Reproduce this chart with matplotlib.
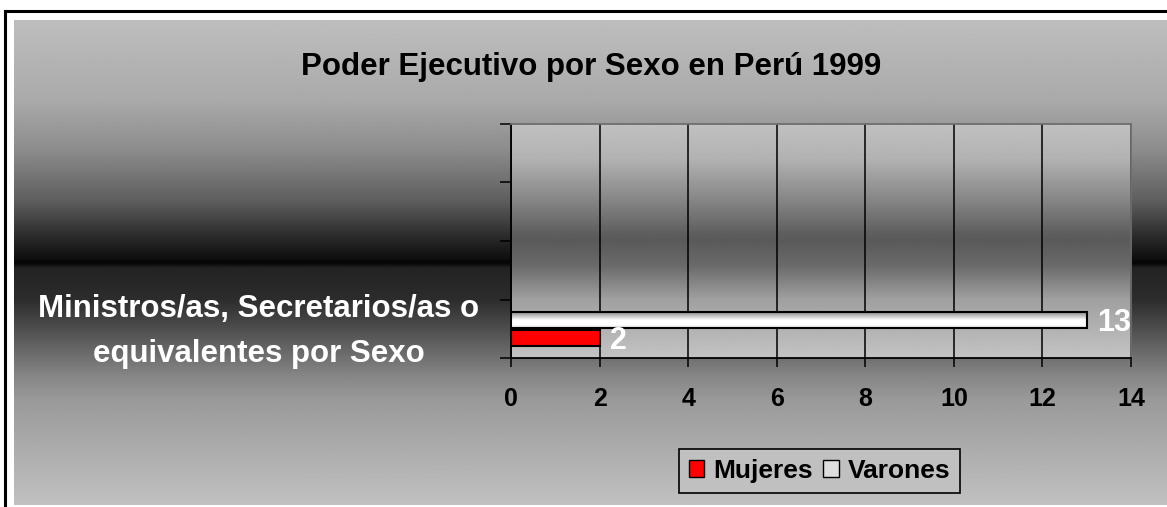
import numpy as np
import matplotlib
matplotlib.use("Agg")
import matplotlib.pyplot as plt
from matplotlib.patches import Patch
from matplotlib.lines import Line2D

plt.rcParams['font.family'] = ['Liberation Sans', 'DejaVu Sans']
plt.rcParams['font.weight'] = 'bold'

# ---------------- data ----------------
title = "Poder Ejecutivo por Sexo en Perú 1999"
categories = ["Ministros/as, Secretarios/as o\nequivalentes por Sexo"]
series_names = ["Mujeres", "Varones"]
mujeres = [2]
varones = [13]
x_ticks = [0, 2, 4, 6, 8, 10, 12, 14]
n_slots = 4

W, H = 1167, 507
fig = plt.figure(figsize=(W / 100, H / 100), dpi=100)
fig.patch.set_facecolor('white')

def fx(px):
    return px / W

def fy(py):
    return 1 - py / H

# ---------------- figure background gradient ----------------
bg = fig.add_axes([fx(14), fy(505), fx(W - 14), (505 - 20) / H], zorder=-10)
rows = np.arange(20, 506)
stops_y = [20, 100, 150, 200, 233, 258, 263, 268, 300, 330, 375, 400, 505]
stops_g = [190, 170, 140, 95, 48, 15, 6, 35, 45, 80, 133, 154, 193]
g = np.interp(rows, stops_y, stops_g) / 255.0
bg.imshow(np.repeat(g[:, None], 2, axis=1), cmap='gray', vmin=0, vmax=1,
          aspect='auto', extent=[0, 1, 0, 1], interpolation='bilinear')
bg.set_axis_off()

# outer black border (left and top visible)
fig.add_artist(Line2D([fx(5), fx(5)], [fy(11), fy(H + 5)], color='black', lw=2.2,
                      transform=fig.transFigure))
fig.add_artist(Line2D([fx(5), fx(W + 5)], [fy(11), fy(11)], color='black', lw=2.2,
                      transform=fig.transFigure))

# ---------------- main axes ----------------
ax = fig.add_axes([fx(511), fy(358), fx(1131 - 511), (358 - 124) / H])
prow = np.arange(124, 359)
p_stops_y = [124, 160, 200, 235, 242, 266, 300, 358]
p_stops_g = [193, 178, 135, 94, 90, 106, 160, 195]
pg = np.interp(prow, p_stops_y, p_stops_g) / 255.0
ax.imshow(np.repeat(pg[:, None], 2, axis=1), cmap='gray', vmin=0, vmax=1,
          aspect='auto', extent=[0, x_ticks[-1], 0, n_slots], zorder=0,
          interpolation='bilinear')
ax.set_facecolor('none')

ypos = np.arange(len(categories)) + 0.5
bh = 0.273
bars_m = ax.barh(ypos - 0.158, mujeres, height=bh, color='#ff0000',
                 edgecolor='black', linewidth=1.5, zorder=2)
bars_v = ax.barh(ypos + 0.15, varones, height=bh, color='white',
                 edgecolor='black', linewidth=1.5, zorder=2)

# gradient fill for Varones bar
vgrad = np.interp(np.linspace(0, 1, 50), [0, 0.5, 0.8, 1.0], [0.55, 1.0, 1.0, 0.86])
for p in bars_v.patches:
    x0, y0 = p.get_x(), p.get_y()
    im = ax.imshow(np.repeat(vgrad[:, None], 2, axis=1), cmap='gray', vmin=0, vmax=1,
                   aspect='auto', extent=[x0, x0 + p.get_width(), y0, y0 + p.get_height()],
                   zorder=2.1, interpolation='bilinear')
    im.set_clip_path(p)
    p.set_facecolor('none')
    p.set_zorder(2.2)

ax.set_xlim(x_ticks[0], x_ticks[-1])
ax.set_ylim(0, n_slots)
ax.set_xticks(x_ticks)
ax.set_xticklabels([str(t) for t in x_ticks])
ax.set_yticks(np.arange(n_slots + 1))
ax.set_yticklabels([])
ax.tick_params(axis='x', direction='out', length=6.5, width=1.1, pad=14.5,
               labelsize=18, colors='black')
ax.tick_params(axis='y', direction='out', length=8, width=1.1)
for lab in ax.get_xticklabels():
    lab.set_fontweight('bold')

ax.grid(axis='x', color='black', linewidth=1.1, zorder=0.5)
ax.grid(axis='y', visible=False)
ax.set_axisbelow(True)
for s in ['left', 'bottom']:
    ax.spines[s].set_color('black')
    ax.spines[s].set_linewidth(1.3)
for s in ['top', 'right']:
    ax.spines[s].set_color('#6e6e6e')
    ax.spines[s].set_linewidth(1.3)

# data labels
for bars, vals in [(bars_m, mujeres), (bars_v, varones)]:
    for p, v in zip(bars.patches, vals):
        ax.annotate(str(v), (v, p.get_y() + p.get_height() / 2),
                    xytext=(7.5, 0), textcoords='offset points',
                    ha='left', va='center_baseline', color='white',
                    fontsize=22, fontweight='bold', zorder=5, clip_on=False)

# category label (left of axis)
for cat in categories:
    lines = cat.split('\n')
    base = [317, 362]
    for i, ln in enumerate(lines):
        fig.text(fx(259), fy(base[i]), ln, ha='center', va='baseline',
                 color='white', fontsize=22.5, fontweight='bold')

# title
fig.text(fx(591), fy(75), title, ha='center', va='baseline',
         fontsize=22.5, fontweight='bold', color='black')

# legend
handles = [Patch(facecolor='#ff0000', edgecolor='black', linewidth=1.0),
           Patch(facecolor='#dedede', edgecolor='black', linewidth=1.0)]
leg = fig.legend(handles, series_names, loc='center',
                 bbox_to_anchor=(fx(819.5), fy(471)), ncol=2,
                 prop={'family': 'Liberation Sans', 'weight': 'bold', 'size': 19},
                 frameon=True, fancybox=False, shadow=False,
                 handlelength=0.58, handleheight=0.58, handletextpad=0.35,
                 columnspacing=0.4, borderpad=0.38, borderaxespad=0)
leg.get_frame().set_facecolor('#c0c0c0')
leg.get_frame().set_edgecolor('black')
leg.get_frame().set_linewidth(1.2)
leg.get_frame().set_alpha(1)

fig.savefig('out.png', dpi=100)
